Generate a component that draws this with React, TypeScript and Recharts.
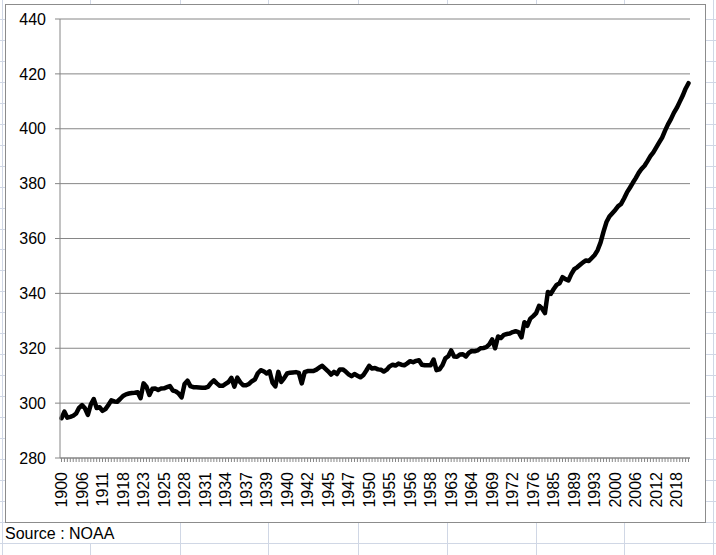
import React from 'react';
import { LineChart, Line, XAxis, YAxis, CartesianGrid } from 'recharts';

// category labels shown every 7th point on the x axis
const yearLabels = [
  '1900', '1906', '1911', '1918', '1923', '1925', '1928', '1931', '1934', '1937',
  '1939', '1940', '1942', '1945', '1947', '1950', '1955', '1956', '1958', '1963',
  '1964', '1969', '1972', '1976', '1985', '1989', '1993', '2000', '2006', '2012',
  '2018',
];

// CO2 concentration (ppm), one value per category
const co2Early = [
  294.5, 296.9, 294.7, 295.0, 295.4, 296.2, 298.3, 299.3, 298.1, 295.7,
  299.5, 301.5, 298.2, 298.5, 297.2, 297.8, 299.3, 301.0, 300.6, 300.5,
  301.5, 302.6, 303.2, 303.5, 303.7, 303.8, 304.0, 301.8, 307.2, 306.0,
  303.0, 305.2, 305.3, 304.8, 305.3, 305.4, 305.8, 306.2, 304.6, 304.3,
  303.5, 302.1, 307.0, 308.2, 306.2, 305.8, 305.8, 305.7, 305.6, 305.6,
  305.9, 307.3, 308.3, 307.2, 306.3,
];

const co2Middle = [
  306.3, 307.0, 307.7, 309.2, 306.0, 309.3, 307.6, 306.5, 306.5, 307.0,
  308.0, 308.6, 310.9, 312.0, 311.6, 310.8, 311.6, 307.5, 306.1, 311.4,
  307.7, 309.1, 310.8, 311.1, 311.2, 311.3, 311.0, 307.2, 311.3, 311.7,
  311.7, 311.7, 312.2, 313.0, 313.6, 312.6, 311.6, 310.4, 311.4, 310.6,
  312.3, 312.3, 311.5, 310.5, 309.8, 310.6, 310.0, 309.4, 310.2, 311.8,
  313.6, 312.6, 312.8, 312.3,
];

const co2Late = [
  312.2, 311.5, 312.2, 313.4, 314.0, 313.7, 314.4, 314.0, 313.8, 314.5,
  315.3, 314.9, 315.4, 315.6, 314.0, 313.8, 313.8, 313.8, 315.9, 312.0,
  312.3, 313.8, 316.3, 317.1, 319.2, 317.0, 316.9, 317.7, 317.8, 317.0,
  318.3, 319.0, 318.9, 319.2, 320.0, 320.1, 320.4, 321.4, 323.2, 320.0,
  324.3, 323.7, 324.9, 325.2, 325.4, 325.9, 326.2, 325.9, 324.0, 329.5,
  328.2, 330.8, 331.7, 332.8, 335.5,
];

const co2Recent = [
  334.5, 332.8, 340.5, 339.8, 341.6, 343.1, 343.7, 345.9, 345.2, 344.7,
  347.0, 348.8, 349.5, 350.4, 351.3, 352.0, 351.8, 352.9, 354.0, 355.8,
  358.6, 362.5, 366.0, 368.0, 369.2, 370.4, 371.8, 372.6, 374.6, 376.8,
  378.5, 380.3, 382.0, 383.9, 385.4, 386.5, 388.2, 390.0, 391.4, 393.2,
  395.0, 396.8, 399.3, 401.6, 403.5, 405.8, 407.6, 409.8, 412.0, 414.6,
  416.6,
];

const yTicks = [280, 300, 320, 340, 360, 380, 400, 420, 440];

const data = [...co2Early, ...co2Middle, ...co2Late, ...co2Recent].map((v, i) => ({ i, co2: v }));

const FONT = '"Liberation Sans", Arial, sans-serif';
const GRID_AXIS = '#868686';
const SHEET_LINE = '#d0d7e5';

// only every 7th category gets a (vertical) year label, like Excel's auto interval
const XTick = (props: any) => {
  const { x, y, payload } = props;
  const idx = Number(payload.value);
  if (idx % 7 !== 0) return null;
  return (
    <text
      x={x}
      y={y}
      transform={`rotate(-90, ${x}, ${y})`}
      textAnchor="end"
      dy="0.35em"
      fontSize={16}
      fontFamily={FONT}
      fill="#000"
    >
      {yearLabels[idx / 7]}
    </text>
  );
};

// spreadsheet cell lines behind the chart object
const sheetCols = [2, 90, 180, 268, 358, 447, 536, 624, 713];
const sheetRows = Array.from({ length: 26 }, (_, k) => Math.round(19 + 20.95 * k));

export default function App() {
  return (
    <div style={{ position: 'absolute', left: 0, top: 0, width: 716, height: 555, background: '#fff', overflow: 'hidden' }}>
      {sheetCols.map((x) => (
        <div key={'c' + x} style={{ position: 'absolute', left: x, top: 0, width: 1, height: 555, background: SHEET_LINE }} />
      ))}
      {sheetRows.map((y) => (
        <div key={'r' + y} style={{ position: 'absolute', left: 0, top: y, width: 716, height: 1, background: SHEET_LINE }} />
      ))}

      {/* chart object frame */}
      <div
        style={{
          position: 'absolute',
          left: 5,
          top: 4,
          width: 701,
          height: 519,
          boxSizing: 'border-box',
          border: '1px solid #8c8c8c',
          background: '#fff',
        }}
      />

      <div style={{ position: 'absolute', left: 0, top: 0 }}>
        <LineChart
          width={716}
          height={555}
          data={data}
          margin={{ top: 19, right: 26, left: 10, bottom: 37 }}
        >
          <CartesianGrid vertical={false} stroke={GRID_AXIS} strokeWidth={1} />
          <XAxis
            dataKey="i"
            type="category"
            interval={0}
            height={60}
            padding={{ left: 1.5, right: 1.5 }}
            tick={<XTick />}
            tickSize={4}
            tickMargin={10}
            tickLine={{ stroke: GRID_AXIS }}
            axisLine={{ stroke: GRID_AXIS }}
          />
          <YAxis
            type="number"
            domain={[280, 440]}
            ticks={yTicks}
            interval={0}
            width={50}
            tickSize={5}
            tickMargin={9}
            tick={{ fontSize: 16, fontFamily: FONT, fill: '#000' }}
            tickLine={{ stroke: GRID_AXIS }}
            axisLine={{ stroke: GRID_AXIS }}
          />
          <Line
            type="linear"
            dataKey="co2"
            stroke="#000"
            strokeWidth={4.5}
            strokeLinejoin="round"
            strokeLinecap="round"
            dot={false}
            isAnimationActive={false}
          />
        </LineChart>
      </div>

      <div
        style={{
          position: 'absolute',
          left: 5,
          top: 524,
          fontSize: 16,
          fontFamily: FONT,
          color: '#000',
          lineHeight: '19px',
          background: '#fff',
          paddingRight: 2,
        }}
      >
        Source : NOAA
      </div>
    </div>
  );
}
